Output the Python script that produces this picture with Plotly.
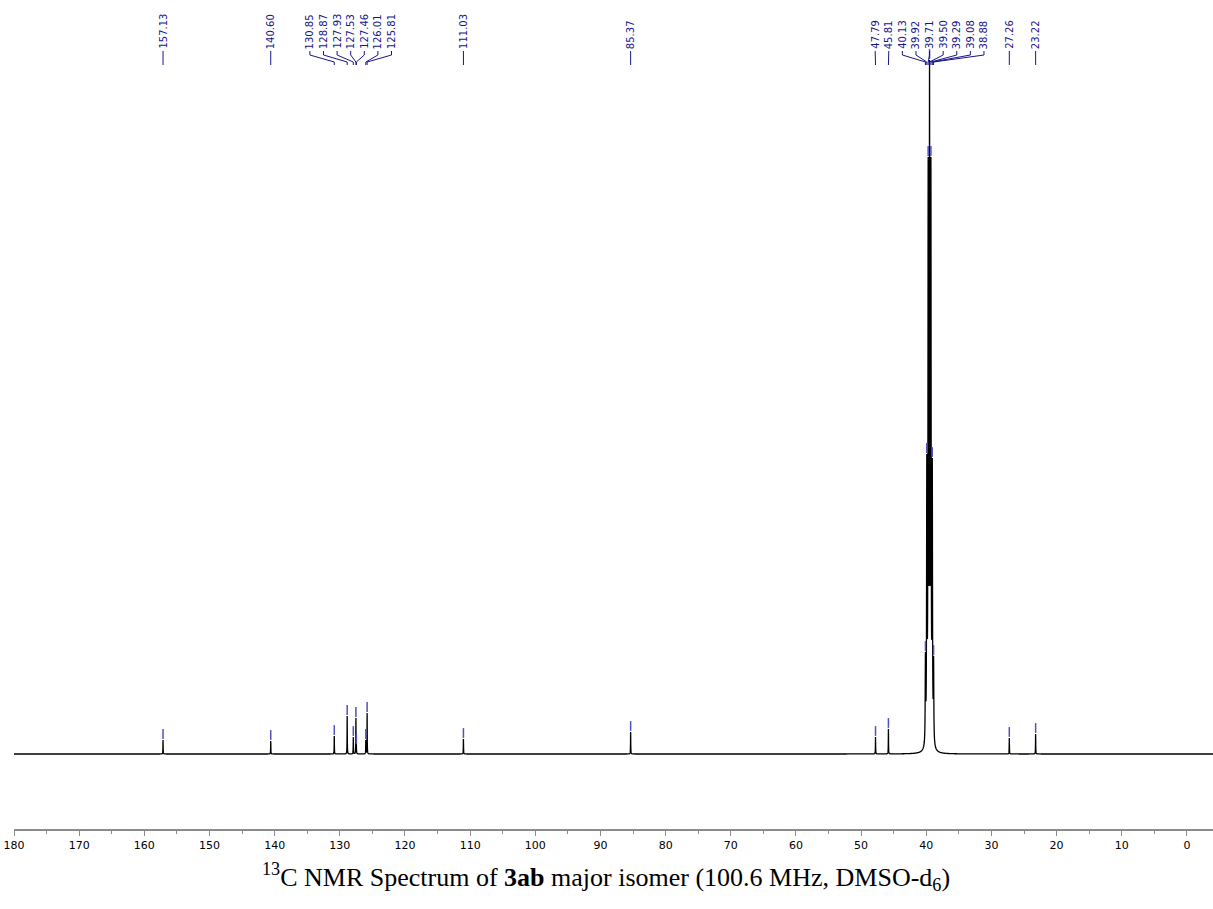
import numpy as np
import plotly.graph_objects as go

# ---- data ----
shifts = [157.13, 140.60, 130.85, 128.87, 127.93, 127.53, 127.46, 126.01, 125.81,
          111.03, 85.37, 47.79, 45.81, 40.13, 39.92, 39.71, 39.50, 39.29, 39.08,
          38.88, 27.26, 23.22]
heights = [14, 13, 18, 38, 17, 36, 9, 14, 41,
           15, 22, 17, 25, 102, 300, 597, 694, 597, 296,
           98, 16, 20]
linewidths = [0.02] * 13 + [0.04] * 7 + [0.02] * 2   # half widths (ppm)
peak_labels = [f"{s:.2f}" for s in shifts]
title_html = "<sup>13</sup>C NMR Spectrum of <b>3ab</b> major isomer (100.6 MHz, DMSO-d<sub>6</sub>)"

# ---- figure geometry ----
W, H = 1213, 909
ML, MR, MT, MB = 14, 0, 0, 80
X_RANGE = [180.0, -4.0]
PLOT_W = W - ML - MR
PLOT_H = H - MT - MB
BASE_PX = 754                     # baseline pixel row
Y_RANGE = [-(PLOT_H - BASE_PX), BASE_PX]
PX_PER_PPM = PLOT_W / (X_RANGE[0] - X_RANGE[1])

def ypx(px):
    """screen row -> data y"""
    return BASE_PX - px

# ---- build line shape (Lorentzian sum with amplitudes solving for observed maxima) ----
s = np.array(shifts)
w = np.array(linewidths)
h = np.array(heights, dtype=float)
A = w[None, :] ** 2 / ((s[:, None] - s[None, :]) ** 2 + w[None, :] ** 2)
amps = np.linalg.solve(A, h)
x = np.union1d(np.arange(X_RANGE[1], X_RANGE[0] + 1e-9, 0.005), s)
y = (amps[None, :] * w[None, :] ** 2 / ((x[:, None] - s[None, :]) ** 2 + w[None, :] ** 2)).sum(axis=1)

fig = go.Figure()
fig.add_trace(go.Scatter(x=x, y=y, mode="lines",
                         line=dict(color="black", width=1.3, simplify=False),
                         hoverinfo="skip", showlegend=False))

# peak-top markers
fig.add_trace(go.Scatter(x=shifts, y=[v + 6 for v in heights], mode="markers",
                         marker=dict(symbol="line-ns", size=7,
                                     line=dict(color="#5050c0", width=1.5)),
                         hoverinfo="skip", showlegend=False))

# ---- label layout (avoid overlaps) ----
spacing = 13.6 / PX_PER_PPM
order = sorted(range(len(shifts)), key=lambda i: -shifts[i])
pos = [-shifts[i] for i in order]
clusters = [[0]]
for k in range(1, len(pos)):
    if pos[k] - pos[clusters[-1][-1]] < spacing:
        clusters[-1].append(k)
    else:
        clusters.append([k])
lab = [0.0] * len(pos)
for c in clusters:
    center = (pos[c[0]] + pos[c[-1]]) / 2
    n = len(c)
    for j, k in enumerate(c):
        lab[k] = center + (j - (n - 1) / 2) * spacing
for k in range(1, len(lab)):
    lab[k] = max(lab[k], lab[k - 1] + spacing)

lx, ly = [], []
for k, i in enumerate(order):
    lp = -lab[k]
    pp = shifts[i]
    lx += [lp, lp, pp, pp, None]
    ly += [ypx(51), ypx(55), ypx(62), ypx(65), None]
    fig.add_annotation(x=lp, y=ypx(51), xref="x", yref="y", text=peak_labels[i],
                       textangle=-90, showarrow=False, xanchor="center", yanchor="bottom",
                       font=dict(family="DejaVu Sans", size=10, color="#16168c"))
fig.add_trace(go.Scatter(x=lx, y=ly, mode="lines", line=dict(color="#16168c", width=1),
                         hoverinfo="skip", showlegend=False))

fig.add_annotation(text=title_html, xref="paper", yref="paper",
                   x=(606 - ML) / PLOT_W, y=-(877 - (H - MB)) / PLOT_H,
                   xanchor="center", yanchor="middle", showarrow=False,
                   font=dict(family="Liberation Serif", size=26, color="black"))

fig.update_layout(
    width=W, height=H,
    margin=dict(l=ML, r=MR, t=MT, b=MB, pad=0),
    paper_bgcolor="white", plot_bgcolor="white",
    hovermode=False,
    xaxis=dict(range=X_RANGE, showgrid=False, zeroline=False,
               showline=True, linecolor="#8c8c8c", linewidth=1.5,
               ticks="outside", ticklen=5, tickwidth=1, tickcolor="#8c8c8c",
               tick0=0, dtick=10, ticklabelstandoff=0,
               minor=dict(ticks="outside", dtick=5, ticklen=3, tickcolor="#8c8c8c", tickwidth=1),
               tickfont=dict(family="DejaVu Sans", size=11, color="black"),
               automargin=False),
    yaxis=dict(range=Y_RANGE, visible=False, showgrid=False, zeroline=False),
)

fig.write_html("out.html", config={"displayModeBar": False},
               post_script="document.body.style.margin='0';document.body.style.overflow='hidden';")
